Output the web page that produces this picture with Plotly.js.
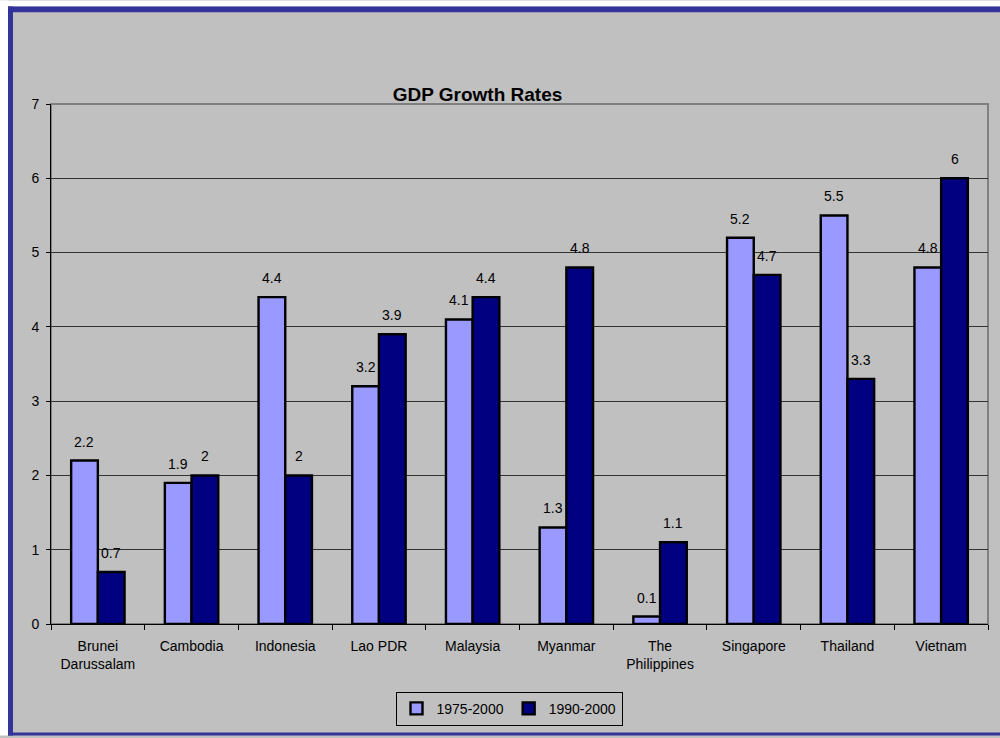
<!DOCTYPE html>
<html>
<head>
<meta charset="utf-8">
<script src="https://cdn.plot.ly/plotly-3.0.1.min.js"></script>
<style>
  html, body { margin: 0; padding: 0; background: #ffffff; }
  #chart { width: 1000px; height: 738px; }
</style>
</head>
<body>
<div id="chart"></div>
<script>
// ---- data ----
const categories = ["Brunei<br>Darussalam", "Cambodia", "Indonesia", "Lao PDR", "Malaysia",
                    "Myanmar", "The<br>Philippines", "Singapore", "Thailand", "Vietnam"];
const series1Name = "1975-2000";
const series1 = [2.2, 1.9, 4.4, 3.2, 4.1, 1.3, 0.1, 5.2, 5.5, 4.8];
const series2Name = "1990-2000";
const series2 = [0.7, 2.0, 2.0, 3.9, 4.4, 4.8, 1.1, 4.7, 3.3, 6.0];
const yTicks = [0, 1, 2, 3, 4, 5, 6, 7];
const chartTitle = "GDP Growth Rates";

// ---- layout geometry ----
const W = 1000, H = 738;
const M = { l: 51, r: 12, t: 104, b: 112 };
const PW = W - M.l - M.r, PH = H - M.t - M.b;
const px = x => (x - M.l) / PW;
const py = y => (H - M.b - y) / PH;

const FONT = 'Arial, "Liberation Sans", sans-serif';
const BARGAP = 0.43;
const half = (PW / categories.length) * (1 - BARGAP) / 4;

const annotations = [];
[[series1, -1], [series2, 1]].forEach(([vals, side]) => {
  vals.forEach((v, j) => {
    annotations.push({
      x: categories[j], y: v, xref: 'x', yref: 'y',
      text: String(v), showarrow: false,
      xshift: side * half, yshift: 19, yanchor: 'middle',
      font: { family: FONT, size: 14, color: '#000' }
    });
  });
});

function rect(x0, y0, x1, y1, color) {
  return { type: 'rect', xref: 'paper', yref: 'paper', layer: 'above',
           x0: px(x0), x1: px(x1), y0: py(y1), y1: py(y0),
           fillcolor: color, line: { width: 0 } };
}

const shapes = [
  // plot frame (gray top/right)
  { type: 'rect', xref: 'paper', yref: 'paper', layer: 'below',
    x0: 0, x1: 1, y0: 0, y1: 1, line: { color: '#808080', width: 2 } },
  // outer white strips
  rect(0, 0, 8, 738, '#ffffff'),
  rect(0, 0, 1000, 6, '#ffffff'),
  // blue border
  rect(8, 6, 13, 738, '#333399'),
  rect(8, 6, 1000, 12, '#333399'),
  rect(8, 735, 1000, 738, '#333399')
];

const traces = [
  { type: 'bar', name: series1Name, x: categories, y: series1,
    marker: { color: '#9999FF', line: { color: '#000000', width: 2.4 } },
    hoverinfo: 'none' },
  { type: 'bar', name: series2Name, x: categories, y: series2,
    marker: { color: '#000080', line: { color: '#000000', width: 2.4 } },
    hoverinfo: 'none' }
];

const layout = {
  width: W, height: H,
  margin: M,
  paper_bgcolor: '#C0C0C0',
  plot_bgcolor: '#C0C0C0',
  font: { family: FONT, size: 14, color: '#000' },
  barmode: 'group',
  bargap: BARGAP,
  bargroupgap: 0,
  title: {
    text: '<b>' + chartTitle + '</b>',
    font: { family: FONT, size: 19, color: '#000' },
    x: px(477.5), xref: 'paper', xanchor: 'center',
    y: 1 - 94 / H, yref: 'container', yanchor: 'middle'
  },
  xaxis: {
    type: 'category',
    showgrid: false,
    showline: true, linecolor: '#000', linewidth: 1,
    ticks: 'outside', tickson: 'boundaries', ticklen: 5, tickcolor: '#000',
    ticklabelstandoff: 9,
    tickfont: { family: FONT, size: 14, color: '#000' },
    zeroline: false, fixedrange: true
  },
  yaxis: {
    range: [0, 7], tickvals: yTicks,
    showgrid: true, gridcolor: '#333333', gridwidth: 1,
    showline: true, linecolor: '#000', linewidth: 1,
    ticks: 'outside', ticklen: 4, tickcolor: '#000',
    ticklabelstandoff: 4,
    tickfont: { family: FONT, size: 14, color: '#000' },
    zeroline: false, fixedrange: true
  },
  legend: {
    orientation: 'h',
    x: px(509), xanchor: 'center',
    y: py(694), yanchor: 'top',
    bgcolor: '#C0C0C0', bordercolor: '#000', borderwidth: 1,
    font: { family: FONT, size: 14, color: '#000' },
    itemwidth: 30, traceorder: 'normal'
  },
  showlegend: true,
  annotations: annotations,
  shapes: shapes
};

Plotly.newPlot('chart', traces, layout, { displayModeBar: false, staticPlot: true });
</script>
</body>
</html>
